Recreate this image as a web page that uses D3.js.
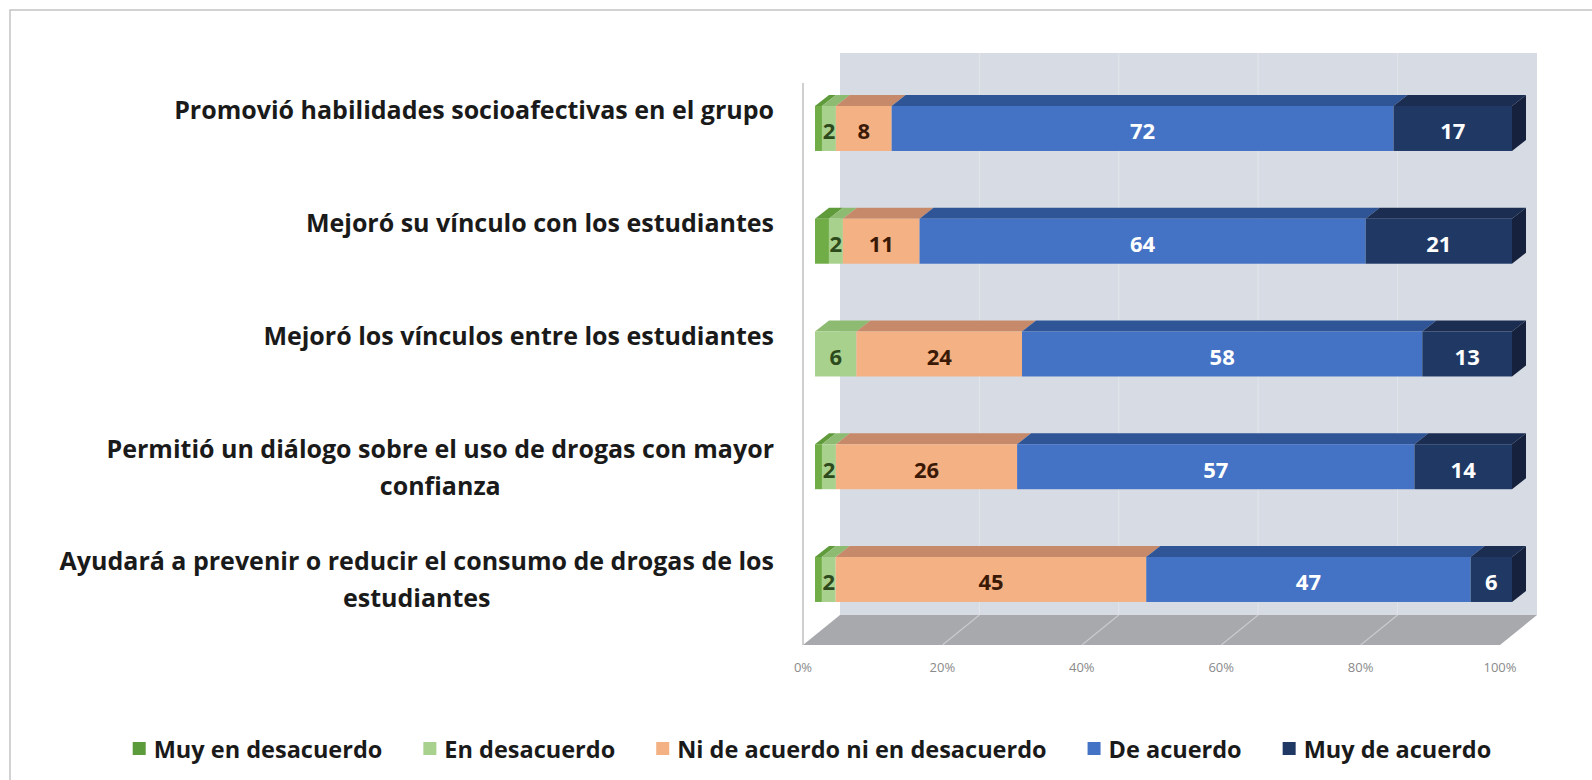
<!DOCTYPE html>
<html><head><meta charset="utf-8">
<script src="https://cdn.jsdelivr.net/npm/d3@7"></script>
<style>body{margin:0;background:#fff} svg{display:block}</style>
</head><body><svg id="c" width="1592" height="780"></svg>
<script>
// ---------- data ----------
const categories = [
  "Promovió habilidades socioafectivas en el grupo",
  "Mejoró su vínculo con los estudiantes",
  "Mejoró los vínculos entre los estudiantes",
  "Permitió un diálogo sobre el uso de drogas con mayor confianza",
  "Ayudará a prevenir o reducir el consumo de drogas de los estudiantes"
];
const categoryLines = [
  ["Promovió habilidades socioafectivas en el grupo"],
  ["Mejoró su vínculo con los estudiantes"],
  ["Mejoró los vínculos entre los estudiantes"],
  ["Permitió un diálogo sobre el uso de drogas con mayor", "confianza"],
  ["Ayudará a prevenir o reducir el consumo de drogas de los", "estudiantes"]
];
const seriesNames = ["Muy en desacuerdo", "En desacuerdo", "Ni de acuerdo ni en desacuerdo", "De acuerdo", "Muy de acuerdo"];
const muyEnDesacuerdo = [1, 2, 0, 1, 1];
const enDesacuerdo    = [2, 2, 6, 2, 2];
const niDeAcuerdo     = [8, 11, 24, 26, 45];
const deAcuerdo       = [72, 64, 58, 57, 47];
const muyDeAcuerdo    = [17, 21, 13, 14, 6];
const labeledSeries   = [false, true, true, true, true];
const tickValues = [0, 0.2, 0.4, 0.6, 0.8, 1];

// ---------- styles ----------
const frontColors = ["#70ad47", "#a9d18e", "#f4b183", "#4472c4", "#203864"];
const topColors   = ["#5f9a3b", "#8dbb72", "#c68a6b", "#2f5597", "#1c2d52"];
const sideColors  = ["#4a7a2c", "#7aa35f", "#b0714f", "#264a86", "#15213d"];
const labelColors = ["#2d4a1c", "#2d4a1c", "#3a1a06", "#ffffff", "#ffffff"];
const legendColors = ["#5b9b3c", "#a9d18e", "#f4b183", "#4472c4", "#203864"];
const FONT = "'Open Sans', 'DejaVu Sans', sans-serif";

const table = categories.map((c, i) => ({
  cat: c,
  [seriesNames[0]]: muyEnDesacuerdo[i],
  [seriesNames[1]]: enDesacuerdo[i],
  [seriesNames[2]]: niDeAcuerdo[i],
  [seriesNames[3]]: deAcuerdo[i],
  [seriesNames[4]]: muyDeAcuerdo[i]
}));
const stacked = d3.stack().keys(seriesNames).offset(d3.stackOffsetExpand)(table);

const svg = d3.select("#c");

// chart frame
svg.append("rect").attr("x", 10).attr("y", 10).attr("width", 1600).attr("height", 800)
  .attr("fill", "#fff").attr("stroke", "#c4c4c4").attr("stroke-width", 1.5);

// geometry
const x = d3.scaleLinear().domain([0, 1]).range([803, 1500]);   // front axis plane
const DX = 37, DY = -30;            // full depth of plot box
const BOFF = 12;                     // bar front offset from axis plane
const BDX = 14, BDY = -11;           // bar depth
const y = d3.scaleBand().domain(categories).range([72.1, 635.85]).paddingInner(0.601).paddingOuter(0.3005);
const floorY = 645, wallTop = 53;

// back wall
svg.append("rect").attr("x", x(0) + DX).attr("y", wallTop)
  .attr("width", x(1) - x(0)).attr("height", floorY + DY - wallTop)
  .attr("fill", "#d7dce4");
// wall gridlines
svg.append("g").selectAll("line").data(tickValues.slice(1, -1)).join("line")
  .attr("x1", d => x(d) + DX).attr("x2", d => x(d) + DX)
  .attr("y1", wallTop).attr("y2", floorY + DY)
  .attr("stroke", "#e2e5ea").attr("stroke-width", 1);
// floor
svg.append("path")
  .attr("d", `M${x(0)},${floorY} L${x(1)},${floorY} L${x(1) + DX},${floorY + DY} L${x(0) + DX},${floorY + DY} Z`)
  .attr("fill", "#a7a9ad");
// floor gridlines
svg.append("g").selectAll("line").data(tickValues.slice(1, -1)).join("line")
  .attr("x1", d => x(d)).attr("x2", d => x(d) + DX)
  .attr("y1", floorY).attr("y2", floorY + DY)
  .attr("stroke", "#c9cbcf").attr("stroke-width", 1.2);
// vertical axis line (front-left)
svg.append("line").attr("x1", x(0)).attr("x2", x(0)).attr("y1", wallTop - DY).attr("y2", floorY)
  .attr("stroke", "#bfbfbf").attr("stroke-width", 1.5);

// bars
const xb = v => x(v) + BOFF;
const gBars = svg.append("g");
stacked.forEach((s, si) => {
  const g = gBars.append("g");
  s.forEach((d, ri) => {
    if (d[1] - d[0] <= 0) return;
    const x0 = xb(d[0]), x1 = xb(d[1]);
    const yt = y(categories[ri]), h = y.bandwidth();
    g.append("path")
      .attr("d", `M${x0},${yt} L${x1},${yt} L${x1 + BDX},${yt + BDY} L${x0 + BDX},${yt + BDY} Z`)
      .attr("fill", topColors[si]);
    g.append("rect").attr("x", x0).attr("y", yt).attr("width", x1 - x0).attr("height", h)
      .attr("fill", frontColors[si]);
    if (si === seriesNames.length - 1) {
      g.append("path")
        .attr("d", `M${x1},${yt} L${x1 + BDX},${yt + BDY} L${x1 + BDX},${yt + h + BDY} L${x1},${yt + h} Z`)
        .attr("fill", sideColors[si]);
    }
  });
});

// data labels
const raw = [muyEnDesacuerdo, enDesacuerdo, niDeAcuerdo, deAcuerdo, muyDeAcuerdo];
stacked.forEach((s, si) => {
  if (!labeledSeries[si]) return;
  svg.append("g").selectAll("text").data(s.filter((d, ri) => raw[si][ri] > 0)).join("text")
    .attr("x", d => (xb(d[0]) + xb(d[1])) / 2)
    .attr("y", d => y(d.data.cat) + y.bandwidth() / 2 + 2)
    .attr("text-anchor", "middle").attr("dominant-baseline", "central")
    .attr("font-family", FONT).attr("font-weight", 700).attr("font-size", 22)
    .attr("fill", labelColors[si])
    .text(d => raw[si][categories.indexOf(d.data.cat)]);
});

// x tick labels
svg.append("g").selectAll("text").data(tickValues).join("text")
  .attr("x", d => x(d)).attr("y", 667)
  .attr("text-anchor", "middle").attr("dominant-baseline", "central")
  .attr("font-family", FONT).attr("font-size", 13).attr("fill", "#8a8a8a")
  .text(d3.format(".0%"));

// category labels: block right-aligned, lines centered within block
const labelRight = 774, lineGap = 37;
categoryLines.forEach((lines, ri) => {
  const g = svg.append("g");
  const cy = y(categories[ri]) + y.bandwidth() / 2;
  const texts = lines.map((ln, li) => g.append("text")
    .attr("y", cy - 9 + li * lineGap)
    .attr("text-anchor", "middle")
    .attr("font-family", FONT).attr("font-weight", 700).attr("font-size", 25)
    .attr("fill", "#1a1a1a").text(ln));
  const w = d3.max(texts, t => t.node().getComputedTextLength());
  texts.forEach(t => t.attr("x", labelRight - w / 2));
});

// legend
const leg = svg.append("g");
const GAP = 41;
let lx = 0;
seriesNames.forEach((n, i) => {
  const gi = leg.append("g");
  gi.append("rect").attr("x", 0).attr("y", -7).attr("width", 13).attr("height", 13).attr("fill", legendColors[i]);
  const t = gi.append("text").attr("x", 21).attr("y", 0).attr("dominant-baseline", "central")
    .attr("font-family", FONT).attr("font-weight", 700).attr("font-size", 23.5).attr("fill", "#1a1a1a").text(n);
  const w = 21 + t.node().getComputedTextLength();
  gi.attr("transform", `translate(${lx},0)`);
  lx += w + GAP;
});
const totalW = lx - GAP;
leg.attr("transform", `translate(${812 - totalW / 2},749)`);
</script>
</body></html>
